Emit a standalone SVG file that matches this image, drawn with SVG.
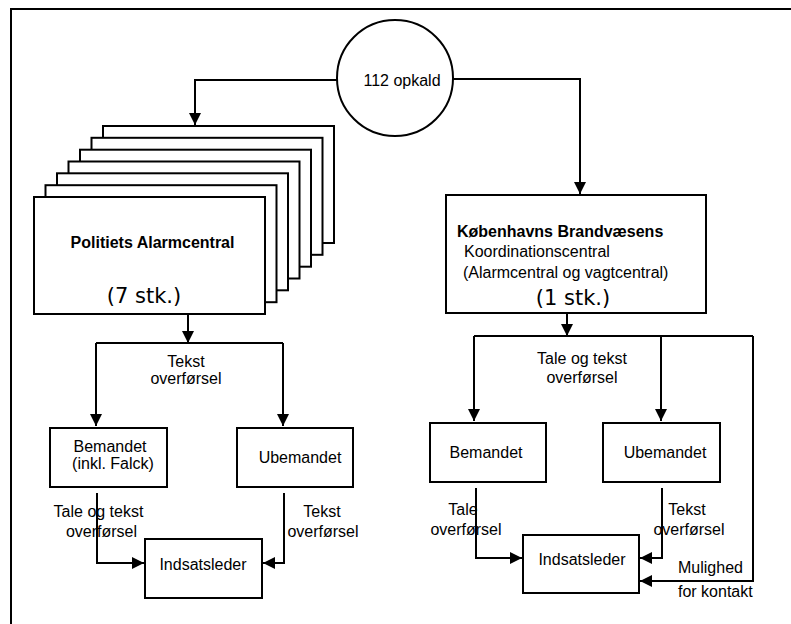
<svg xmlns="http://www.w3.org/2000/svg" width="791" height="624" viewBox="0 0 791 624">
  <style>
    .box { fill: #fff; stroke: #000; stroke-width: 2; }
    .wire { fill: none; stroke: #000; stroke-width: 2; }
    .arrow { marker-end: url(#head); }
    text { font-family: "Liberation Sans", Arial, sans-serif; font-size: 16px; fill: #000; }
    .c { text-anchor: middle; }
    .b { font-weight: bold; }
    .count { font-family: "DejaVu Sans", Verdana, sans-serif; font-size: 21px; }
  </style>
  <defs>
    <marker id="head" markerUnits="userSpaceOnUse" markerWidth="12" markerHeight="12" refX="12" refY="6" orient="auto">
      <path d="M0,0 L12,6 L0,12 Z" fill="#000"/>
    </marker>
  </defs>

  <!-- page frame -->
  <path class="wire" d="M11,624 V9 H791"/>

  <!-- emergency call -->
  <g id="call">
    <circle class="box" cx="395" cy="78" r="58"/>
    <text x="402" y="86" class="c">112 opkald</text>
  </g>

  <!-- police alarm centres: stack of seven sheets -->
  <g id="police">
    <rect class="box" x="103" y="126" width="231" height="117"/>
    <rect class="box" x="91.5" y="137.8" width="231" height="117"/>
    <rect class="box" x="80" y="149.7" width="231" height="117"/>
    <rect class="box" x="68.5" y="161.5" width="231" height="117"/>
    <rect class="box" x="57" y="173.3" width="231" height="117"/>
    <rect class="box" x="45.5" y="185.2" width="231" height="117"/>
    <rect class="box" x="34" y="197" width="231" height="117"/>
    <text x="152.5" y="248" class="c b">Politiets Alarmcentral</text>
    <text x="144" y="303" class="c count">(7 stk.)</text>
  </g>

  <!-- fire brigade coordination centre -->
  <g id="fire">
    <rect class="box" x="446" y="195" width="260" height="118"/>
    <text x="457" y="237" class="b">Københavns Brandvæsens</text>
    <text x="464" y="257">Koordinationscentral</text>
    <text x="463" y="278">(Alarmcentral og vagtcentral)</text>
    <text x="573" y="305" class="c count">(1 stk.)</text>
  </g>

  <g id="police-manned">
    <rect class="box" x="50" y="428" width="117" height="59"/>
    <text x="110" y="452" class="c">Bemandet</text>
    <text x="113" y="469" class="c">(inkl. Falck)</text>
  </g>
  <g id="police-unmanned">
    <rect class="box" x="237" y="428" width="116" height="59"/>
    <text x="300" y="463" class="c">Ubemandet</text>
  </g>
  <g id="police-leader">
    <rect class="box" x="145" y="539" width="117" height="59"/>
    <text x="203" y="570" class="c">Indsatsleder</text>
  </g>

  <g id="fire-manned">
    <rect class="box" x="430" y="423" width="116" height="59"/>
    <text x="486" y="458" class="c">Bemandet</text>
  </g>
  <g id="fire-unmanned">
    <rect class="box" x="603" y="423" width="117" height="59"/>
    <text x="665" y="458" class="c">Ubemandet</text>
  </g>
  <g id="fire-leader">
    <rect class="box" x="523" y="535" width="116" height="58"/>
    <text x="582" y="565" class="c">Indsatsleder</text>
  </g>

  <!-- connectors -->
  <g id="connectors">
    <path class="wire arrow" d="M337,80 H195 V125"/>
    <path class="wire arrow" d="M452,79 H580 V194"/>

    <path class="wire arrow" d="M188,314 V343"/>
    <path class="wire" d="M96,343 H283"/>
    <path class="wire arrow" d="M96,343 V426"/>
    <path class="wire arrow" d="M283,343 V426"/>
    <path class="wire arrow" d="M97,493 V563 H144"/>
    <path class="wire arrow" d="M284,493 V563 H263"/>

    <path class="wire arrow" d="M567,313 V336"/>
    <path class="wire" d="M474,336 H753"/>
    <path class="wire arrow" d="M474,336 V421"/>
    <path class="wire arrow" d="M661,336 V421"/>
    <path class="wire arrow" d="M753,336 V581 H640"/>
    <path class="wire arrow" d="M476,488 V558 H522"/>
    <path class="wire arrow" d="M662,488 V558 H640"/>
  </g>

  <!-- connector labels -->
  <g id="labels">
    <text x="186" y="367" class="c">Tekst</text>
    <text x="186" y="384" class="c">overførsel</text>
    <text x="98.5" y="517" class="c">Tale og tekst</text>
    <text x="101.5" y="537" class="c">overførsel</text>
    <text x="322" y="517" class="c">Tekst</text>
    <text x="323" y="537" class="c">overførsel</text>

    <text x="582" y="364" class="c">Tale og tekst</text>
    <text x="582" y="383" class="c">overførsel</text>
    <text x="463" y="515" class="c">Tale</text>
    <text x="466" y="535" class="c">overførsel</text>
    <text x="687" y="515" class="c">Tekst</text>
    <text x="689" y="535" class="c">overførsel</text>
    <text x="678" y="573">Mulighed</text>
    <text x="678" y="597">for kontakt</text>
  </g>
</svg>
